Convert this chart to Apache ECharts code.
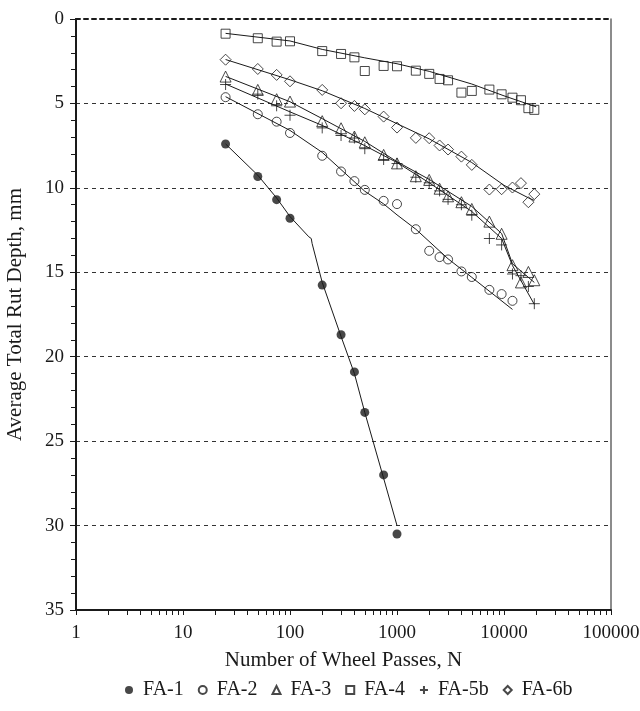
<!DOCTYPE html>
<html>
<head>
<meta charset="utf-8">
<script src="https://cdn.jsdelivr.net/npm/echarts@6/dist/echarts.min.js"></script>
<style>
  html, body { margin: 0; padding: 0; background: #fff; }
  #chart { width: 640px; height: 711px; }
</style>
</head>
<body>
<div id="chart"></div>
<script>
// Wheel pass counts at which rut depth was measured
const passes = [25, 50, 75, 100, 200, 300, 400, 500, 750, 1000, 1500, 2000, 2500, 3000, 4000, 5000, 7300, 9500, 12000, 14400, 16900, 19200];

// Measured average total rut depth (mm) for each mix
const fa1  = [7.4, 9.33, 10.7, 11.8, 15.76, 18.7, 20.9, 23.3, 27.0, 30.5];
const fa2  = [4.63, 5.64, 6.08, 6.75, 8.1, 9.03, 9.6, 10.12, 10.77, 10.96, 12.45, 13.73, 14.1, 14.24, 14.95, 15.28, 16.04, 16.29, 16.69];
const fa3  = [3.41, 4.2, 4.75, 4.89, 6.05, 6.47, 6.96, 7.3, 8.05, 8.55, 9.31, 9.53, 10.05, 10.5, 10.85, 11.25, 12.0, 12.72, 14.58, 15.6, 14.98, 15.47];
const fa4  = [0.87, 1.14, 1.34, 1.32, 1.9, 2.07, 2.27, 3.08, 2.78, 2.8, 3.06, 3.25, 3.55, 3.63, 4.36, 4.26, 4.18, 4.46, 4.66, 4.81, 5.28, 5.38];
const fa5b = [3.88, 4.45, 5.14, 5.7, 6.45, 6.9, 7.05, 7.68, 8.32, 8.56, 9.37, 9.7, 10.18, 10.68, 11.0, 11.62, 13.0, 13.38, 15.1, 15.2, 15.84, 16.86];
const fa6b = [2.41, 2.96, 3.31, 3.69, 4.2, 4.99, 5.15, 5.35, 5.78, 6.43, 7.04, 7.06, 7.49, 7.73, 8.15, 8.64, 10.1, 10.08, 9.98, 9.72, 10.85, 10.37];

// Trend curves drawn through each data set
const fit1X  = [25, 50, 75, 100, 150, 158, 161, 200, 300, 400, 500, 750, 1000];
const fit1Y  = [7.4, 9.25, 10.6, 11.7, 12.9, 13.0, 13.3, 15.6, 18.8, 21.0, 23.3, 27.2, 30.0];
const fit2X  = [25, 100, 200, 500, 750, 1000, 1500, 3000, 5000, 12000];
const fit2Y  = [4.6, 6.6, 7.9, 10.2, 10.95, 11.6, 12.45, 14.2, 15.3, 17.2];
const fit3X  = [25, 100, 200, 500, 1000, 2000, 5000, 9500, 12000, 19200];
const fit3Y  = [3.4, 4.9, 5.9, 7.25, 8.45, 9.5, 11.1, 12.7, 14.5, 15.6];
const fit4X  = [25, 100, 200, 500, 1000, 2000, 5000, 10000, 20000];
const fit4Y  = [0.85, 1.3, 1.8, 2.3, 2.65, 3.1, 3.85, 4.55, 5.2];
const fit5X  = [25, 100, 200, 500, 1000, 2000, 5000, 9500, 12000, 19200];
const fit5Y  = [3.85, 5.5, 6.3, 7.5, 8.5, 9.7, 11.4, 13.0, 14.6, 16.9];
const fit6X  = [25, 100, 200, 500, 1000, 2000, 5000, 10000, 17000, 19200];
const fit6Y  = [2.4, 3.6, 4.25, 5.3, 6.2, 7.1, 8.5, 9.85, 10.6, 10.75];

// Axis settings
const xTickLabels = [1, 10, 100, 1000, 10000, 100000];
const yMin = 0, yMax = 35, yStep = 5;
const seriesNames = ['FA-1', 'FA-2', 'FA-3', 'FA-4', 'FA-5b', 'FA-6b'];

const FONT = '"Liberation Serif", "DejaVu Serif", serif';
const INK = '#1a1a1a';

function pairs(xs, ys) { return ys.map((y, i) => [xs[i], y]); }

// Log-axis tick positions at 1..9 of every decade
const logTicks = [];
for (let d = 1; d < 100000; d *= 10) for (let m = 1; m <= 9; m++) logTicks.push(d * m);
logTicks.push(100000);

const PLUS = 'path://M0,5L10,5M5,0L5,10';

function points(name, ys, symbol, size, filled) {
  return {
    name, type: 'scatter', xAxisIndex: 0, yAxisIndex: 0,
    data: pairs(passes, ys), symbol, symbolSize: size, z: 3,
    itemStyle: {
      color: filled ? INK : 'rgba(255,255,255,0)',
      borderColor: INK, borderWidth: filled ? 0 : 1
    },
    emphasis: { disabled: true }
  };
}
function fitLine(name, xs, ys) {
  return {
    name, type: 'line', xAxisIndex: 0, yAxisIndex: 0,
    data: pairs(xs, ys), showSymbol: false, symbol: 'none', z: 2,
    lineStyle: { color: INK, width: 1 }, silent: true
  };
}

const plusSeries = points('FA-5b', fa5b, PLUS, 11, false);
plusSeries.itemStyle = { color: INK, borderColor: INK, borderWidth: 1 };

const option = {
  animation: false,
  backgroundColor: '#fff',
  grid: { left: 76, right: 29, top: 19, bottom: 101, outerBoundsMode: 'none', containLabel: false },
  legend: {
    data: seriesNames, top: 675, left: 120,
    itemWidth: 8, itemHeight: 8, itemGap: 14,
    textStyle: { fontFamily: FONT, fontSize: 20, color: INK, padding: [0, 0, 0, 5] },
    selectedMode: false
  },
  xAxis: [{
    type: 'log', logBase: 10, min: 1, max: 100000, position: 'bottom',
    name: 'Number of Wheel Passes, N', nameLocation: 'middle', nameGap: 40,
    nameTextStyle: { fontFamily: FONT, fontSize: 21, color: INK },
    axisLine: { show: true, onZero: false, lineStyle: { color: INK, width: 2 } },
    axisTick: { show: true, inside: false, length: 5, customValues: logTicks, lineStyle: { color: INK, width: 1 } },
    axisLabel: { customValues: xTickLabels, fontFamily: FONT, fontSize: 19, color: INK, margin: 14,
      formatter: v => String(Math.round(v)) },
    splitLine: { show: false }, minorTick: { show: false }
  }, {
    type: 'log', logBase: 10, min: 1, max: 100000, position: 'top',
    axisLine: { show: true, onZero: false, lineStyle: { color: INK, width: 2, type: [4, 4] } },
    axisTick: { show: false }, axisLabel: { show: false }, splitLine: { show: false }
  }],
  yAxis: [{
    type: 'value', inverse: true, min: yMin, max: yMax, interval: yStep, position: 'left',
    name: 'Average Total Rut Depth, mm', nameLocation: 'middle', nameGap: 50,
    nameTextStyle: { fontFamily: FONT, fontSize: 21, color: INK },
    axisLine: { show: true, onZero: false, lineStyle: { color: INK, width: 2 } },
    axisTick: { show: true, inside: false, length: 6, lineStyle: { color: INK, width: 1 } },
    minorTick: { show: true, splitNumber: 5, length: 5, lineStyle: { color: INK, width: 1 } },
    axisLabel: { fontFamily: FONT, fontSize: 19, color: INK, margin: 12 },
    splitLine: { show: true, showMinLine: false, showMaxLine: false,
      lineStyle: { color: '#333', width: 1, type: [4, 4] } }
  }, {
    type: 'value', inverse: true, min: yMin, max: yMax, position: 'right',
    axisLine: { show: true, onZero: false, lineStyle: { color: '#666', width: 1.5 } },
    axisTick: { show: false }, axisLabel: { show: false }, splitLine: { show: false }
  }],
  series: [
    fitLine('fit FA-1', fit1X, fit1Y),
    fitLine('fit FA-2', fit2X, fit2Y),
    fitLine('fit FA-3', fit3X, fit3Y),
    fitLine('fit FA-4', fit4X, fit4Y),
    fitLine('fit FA-5b', fit5X, fit5Y),
    fitLine('fit FA-6b', fit6X, fit6Y),
    points('FA-1', fa1, 'circle', 9, true),
    points('FA-2', fa2, 'circle', 9, false),
    points('FA-3', fa3, 'triangle', 11, false),
    points('FA-4', fa4, 'rect', 9, false),
    plusSeries,
    points('FA-6b', fa6b, 'diamond', 11, false)
  ]
};

const chart = echarts.init(document.getElementById('chart'), null, { renderer: 'canvas' });
chart.setOption(option);
</script>
</body>
</html>
